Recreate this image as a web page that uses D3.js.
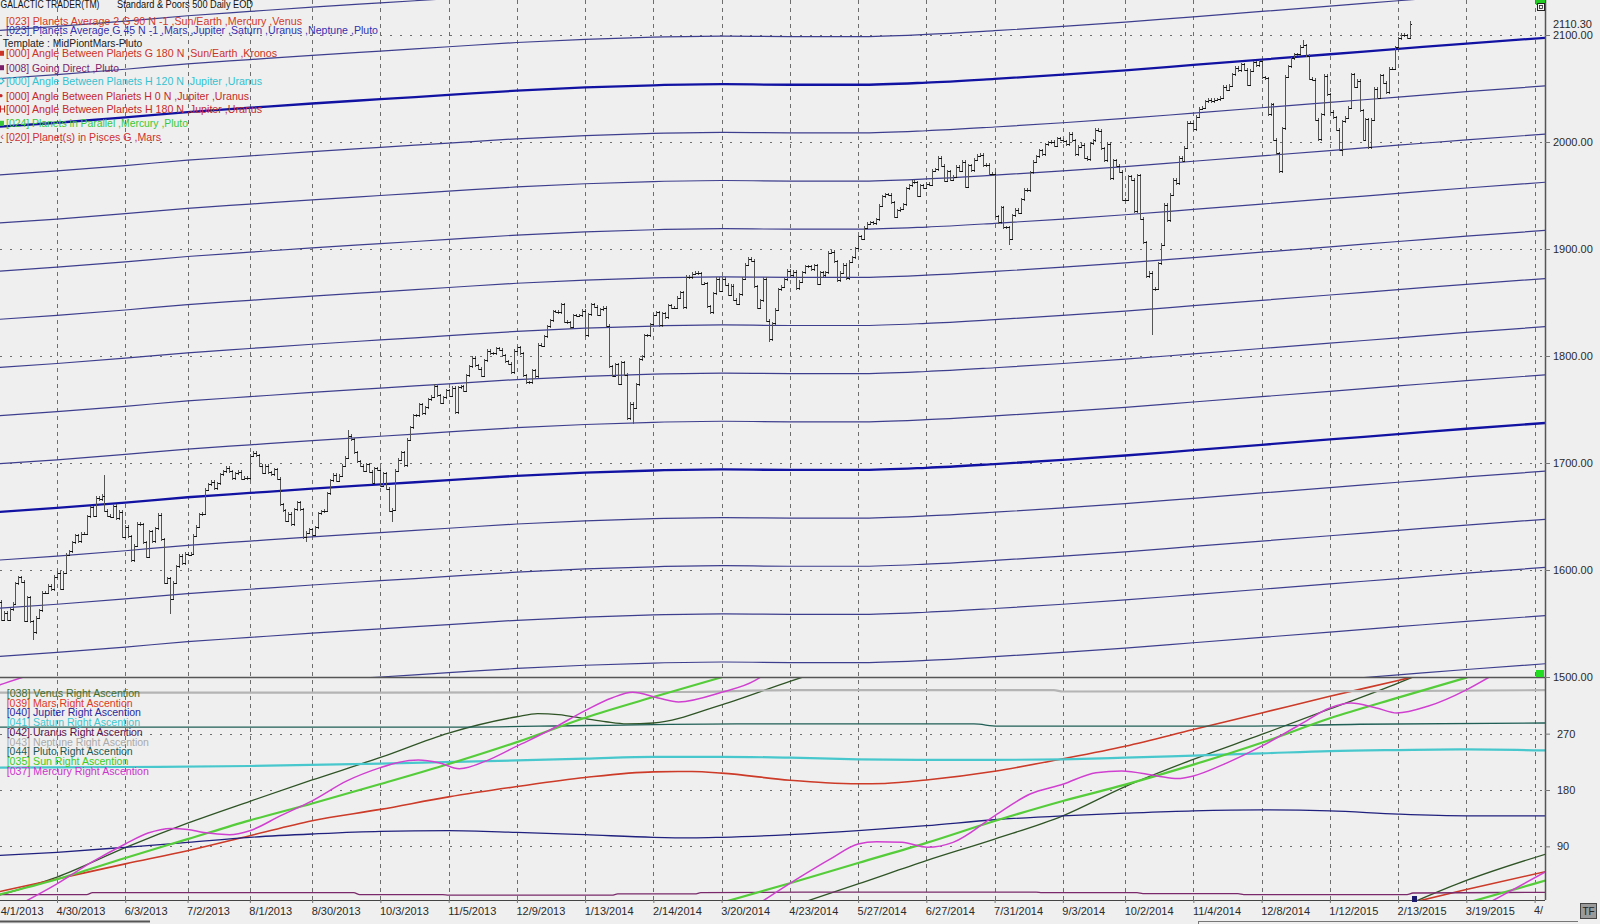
<!DOCTYPE html>
<html><head><meta charset="utf-8">
<script src="https://cdn.jsdelivr.net/npm/d3@7"></script>
<style>
html,body{margin:0;padding:0;background:#efefef;overflow:hidden;}
svg{display:block;font-family:"Liberation Sans",Arial,sans-serif;}
</style></head><body>
<svg id="chart" width="1600" height="924"></svg>
<script>
// ---------------- DATA ----------------
const holidays = ["2013-05-27","2013-07-04","2013-09-02","2013-11-28","2013-12-25","2014-01-01","2014-01-20","2014-02-17","2014-04-18","2014-05-26","2014-07-04","2014-09-01","2014-11-27","2014-12-25","2015-01-01","2015-01-19","2015-02-16","2015-04-03"];
const tickDates = ["2013-04-01","2013-04-30","2013-06-03","2013-07-02","2013-08-01","2013-08-30","2013-10-03","2013-11-05","2013-12-09","2014-01-13","2014-02-14","2014-03-20","2014-04-23","2014-05-27","2014-06-27","2014-07-31","2014-09-03","2014-10-02","2014-11-04","2014-12-08","2015-01-12","2015-02-13","2015-03-19","2015-04-22"];
const tickLabels = ["4/1/2013","4/30/2013","6/3/2013","7/2/2013","8/1/2013","8/30/2013","10/3/2013","11/5/2013","12/9/2013","1/13/2014","2/14/2014","3/20/2014","4/23/2014","5/27/2014","6/27/2014","7/31/2014","9/3/2014","10/2/2014","11/4/2014","12/8/2014","1/12/2015","2/13/2015","3/19/2015","4/22/2015"];
const priceTicks = [2100,2000,1900,1800,1700,1600,1500];
const priceGrid = [2100,2000,1900,1800,1700,1600];
const degTicks = [270,180,90];
const lastPrice = 2110.30;

// S&P 500 daily closes, one per session from 2013-04-01
const closes = [
1562.2,1570.3,1553.7,1560.0,1553.3,1563.1,1568.6,1587.7,1593.4,1588.9,1552.4,1574.6,1552.0,1541.6,1555.3,1562.5,1578.8,1578.8,1585.2,1582.2,1593.6,1597.6,
1582.7,1597.6,1614.4,1617.5,1626.0,1632.7,1626.7,1633.7,1633.8,1650.3,1658.8,1650.5,1667.5,1666.3,1669.2,1655.4,1650.5,1649.6,1660.1,1648.4,1654.4,1631.0,
1640.4,1631.4,1608.9,1622.6,1643.4,1642.8,1626.1,1612.5,1636.4,1626.7,1639.0,1651.8,1628.9,1588.2,1592.4,1573.1,1588.0,1603.3,1613.2,1606.3,
1615.0,1614.1,1615.4,1631.9,1640.5,1652.3,1652.6,1675.0,1680.2,1682.5,1676.3,1680.9,1689.4,1692.1,1695.5,1692.4,1685.9,1690.3,1691.7,1685.3,1686.0,1685.7,
1706.9,1709.7,1707.1,1697.4,1690.9,1697.5,1691.4,1689.5,1694.2,1685.4,1661.3,1655.8,1646.1,1652.4,1642.8,1657.0,1663.5,1656.8,1630.5,1635.0,1638.2,1633.0,
1639.8,1653.1,1655.1,1655.2,1671.7,1684.0,1689.1,1683.4,1688.0,1697.6,1704.8,1725.5,1722.3,1709.9,1701.8,1697.4,1692.8,1698.7,1691.8,1681.6,
1695.0,1693.9,1678.7,1690.5,1676.1,1655.5,1656.4,1692.6,1703.2,1710.1,1698.1,1721.5,1733.2,1744.5,1744.7,1754.7,1746.4,1752.1,1759.8,1762.1,1772.0,1763.3,1756.5,
1761.6,1767.9,1763.0,1770.5,1747.2,1770.6,1771.9,1767.7,1782.0,1790.6,1798.2,1791.5,1787.9,1781.4,1795.9,1804.8,1802.5,1802.8,1807.2,1805.8,
1800.9,1795.2,1792.8,1785.0,1805.1,1808.4,1802.6,1782.2,1775.5,1775.3,1786.5,1781.0,1810.7,1809.6,1818.3,1828.0,1833.3,1842.0,1841.4,1841.1,1848.4,
1832.0,1831.4,1826.8,1837.9,1837.5,1838.1,1842.4,1819.2,1838.9,1848.4,1845.9,1838.7,1843.8,1844.9,1828.5,1790.3,1781.6,1792.5,1774.2,1794.2,1782.6,
1741.9,1755.2,1751.6,1773.4,1797.0,1799.8,1819.3,1819.3,1829.8,1838.6,1840.8,1828.8,1839.8,1836.3,1847.6,1845.1,1845.2,1854.3,1859.5,
1845.7,1873.9,1873.8,1877.0,1878.0,1877.2,1867.6,1868.2,1846.3,1841.1,1858.8,1872.3,1860.8,1872.0,1866.5,1857.4,1865.6,1852.6,1849.0,1857.6,1872.3,
1885.5,1890.9,1888.8,1865.1,1845.0,1852.0,1872.2,1833.1,1815.7,1830.6,1843.0,1862.3,1864.9,1871.9,1879.6,1875.4,1878.6,1863.4,1869.4,1878.3,1884.0,
1883.7,1881.1,1884.7,1867.7,1878.2,1875.6,1878.5,1896.7,1897.5,1888.5,1870.9,1877.9,1885.1,1872.8,1888.0,1892.5,1900.5,1911.9,1909.8,1920.0,1923.6,
1925.0,1924.2,1927.9,1940.5,1949.4,1951.3,1950.8,1943.9,1930.1,1936.2,1937.8,1942.0,1957.0,1959.5,1962.9,1962.6,1950.0,1959.5,1957.2,1961.0,1960.2,
1973.3,1974.6,1985.4,1977.7,1963.7,1972.8,1964.7,1967.6,1977.1,1973.3,1981.6,1958.1,1978.2,1973.6,1983.5,1987.0,1988.0,1978.3,1978.9,1970.0,1970.1,1930.7,
1925.2,1939.0,1920.2,1920.2,1909.6,1931.6,1936.9,1933.8,1946.7,1955.2,1955.1,1971.7,1981.6,1986.5,1992.4,1988.4,1997.9,2000.0,2000.1,1996.7,2003.4,
2002.3,2000.7,1997.7,2007.7,2001.5,1988.4,1995.7,1997.5,1985.5,1984.1,1999.0,2001.6,2011.4,2010.4,1994.3,1982.8,1998.3,1966.0,1982.9,1977.8,1972.3,
1946.2,1946.2,1967.9,1964.8,1935.1,1968.9,1928.2,1906.1,1874.7,1877.7,1862.5,1862.8,1886.8,1904.0,1941.3,1927.1,1950.8,1964.6,1961.6,1985.1,1982.3,1994.7,2018.1,
2017.8,2012.1,2023.6,2031.2,2031.9,2038.3,2039.7,2038.3,2039.3,2039.8,2041.3,2051.8,2048.7,2052.8,2063.5,2069.4,2067.0,2072.8,2067.6,
2053.4,2066.6,2074.3,2071.9,2075.4,2060.3,2059.8,2026.1,2035.3,2002.3,1989.6,1972.7,2012.9,2061.2,2070.7,2078.5,2082.2,2081.9,2088.8,2090.6,2080.4,2058.9,
2058.2,2020.6,2002.6,2025.9,2062.1,2044.8,2028.3,2023.0,2011.3,1992.7,2019.4,2022.6,2032.1,2063.2,2051.8,2057.1,2029.6,2002.2,2021.3,1995.0,
2020.9,2050.0,2041.5,2062.5,2055.5,2046.7,2068.6,2068.5,2088.5,2097.0,2100.3,2099.7,2097.5,2110.3
];
// intraday extremes that stick out of the close-to-close range
const spikeDates  = ["2013-04-18","2013-05-22","2013-06-24","2013-08-28","2013-09-18","2013-10-09","2014-02-05","2014-04-11","2014-08-07","2014-10-15","2014-12-16","2014-12-29","2015-01-16","2015-02-20"];
const spikeValues = [1536.0,1687.2,1560.3,1627.5,1729.9,1646.5,1737.9,1814.4,1904.8,1820.7,1972.6,2093.6,1988.1,2111.4];

// Planetary harmonic line (price units) at session index; repeated every 45 points
const harmonicBase = [[0,1654],[21,1658],[44,1663],[65,1668],[86,1672],[107,1676],[130,1680],[153,1684],[176,1688],[199,1691],[222,1693],[245,1694],[268,1693.5],[291,1693.5],[314,1695.5],[337,1699],[360,1703],[381,1707],[404,1712],[427,1717],[450,1722],[473,1727],[496,1732],[523,1737.5]];
const harmonicOffsets = [-225,-180,-135,-90,-45,0,45,90,135,180,225,270,315,360,405,450];

// Right ascension (degrees, unwrapped) at session index
const sunRA = [[0,11],[21,37.5],[44,71.5],[65,101.5],[86,131.5],[107,158.5],[130,189.5],[153,221.5],[176,256.5],[199,295.5],[222,328.5],[245,360],[268,391],[291,423.5],[314,455.5],[337,490.5],[360,522.5],[381,548.5],[404,580.5],[427,615.5],[450,654.5],[473,687.5],[496,719.5],[519,750.5],[523,756]];
const mercuryRA = [[0,345],[1.8,348],[9.5,360],[21,390],[32.7,424.7],[44,453.8],[51.7,471.3],[59.4,478.7],[65,477],[70.5,472],[79.2,468.6],[86,475],[96.4,499],[107,522.7],[118.7,554.5],[130,575.7],[136,584],[142.8,587.9],[149.7,583.6],[156.6,574],[166.9,589],[176,610],[187.5,636.6],[199,666.8],[208,687],[215,696],[223.6,687],[230.5,680.6],[245,696],[256.3,715],[258,720],[271.4,760.8],[281.7,790],[291,813.8],[297.2,817.5],[305.8,816.4],[314.4,808.5],[323,816.4],[337,858.8],[348.8,893.3],[360,909.2],[371.2,927.7],[379.8,930.4],[391.8,922.4],[398.7,918.2],[404,922.4],[414.2,941],[427,970],[440,1004.6],[450,1031],[457.1,1039],[465.7,1031],[472.6,1023],[483,1033.7],[496,1060],[503.6,1080],[523,1130]];
const venusRA = [[0,10],[21,41],[44,88],[65,127],[86,162],[107,196],[130,232],[153,271],[176,297],[183,302],[190,300.5],[199,294],[206,289],[213,285.6],[222,287],[245,316],[268,353.5],[291,390],[314,427.3],[337,461.7],[360,498.8],[381,545.5],[404,589],[427,628.7],[450,669.5],[473,710.8],[496,755.5],[523,798]];
const marsRA = [[0,16],[21,38],[44,62],[65,83],[86,107],[107,131],[130,149],[153,169],[176,185.5],[199,200],[222,209],[235,209.5],[245,207],[268,195.5],[280,191.5],[291,190],[300,190.5],[314,196],[337,210],[360,230],[381,250],[404,276.6],[427,303],[450,329.6],[473,355],[496,381],[523,410]];
const jupiterRA = [[0,75],[21,80.5],[44,88.5],[65,96.4],[86,104.4],[107,109.7],[130,113.9],[153,115],[176,112.3],[199,108.6],[222,104.4],[235,103.5],[245,104.4],[268,108.6],[291,115],[314,123],[337,132.5],[360,138.8],[381,143],[404,146.8],[427,148.4],[450,146.8],[473,141.5],[496,138.8],[523,138.8]];
const saturnRA = [[0,215.7],[44,216.7],[86,218.3],[130,222],[176,227.3],[199,230],[222,233],[245,233],[268,231.6],[291,229],[314,228],[337,228],[360,229],[381,231.6],[404,235],[427,238.5],[450,242.2],[473,243.8],[496,244.8],[523,243.2]];
const uranusRA = [[0,13],[31,13],[33,16],[121,16],[123,13],[151,13],[153,12],[208,12],[210,14],[236,14],[238,16],[272,17],[351,17],[353,16],[385,16],[387,14.5],[419,14.5],[421,13],[476,13],[478,15.5],[523,16.5]];
const neptuneRA = [[0,335.5],[120,335.5],[230,336.5],[270,339.5],[357,339.5],[360,337.3],[450,337.8],[523,339.5]];
const plutoRA = [[0,280.5],[150,280.5],[200,283],[250,285.5],[330,285.5],[338,282],[420,282],[460,285],[523,287]];

const topLegend = [
 "[023] Planets Average 2 G 90 N -1 ,Sun/Earth ,Mercury ,Venus",
 "[023] Planets Average G 45 N -1 ,Mars ,Jupiter ,Saturn ,Uranus ,Neptune ,Pluto",
 "Template : MidPiontMars-Pluto",
 "[000] Angle Between Planets G 180 N ,Sun/Earth ,Kronos",
 "[008] Going Direct ,Pluto",
 "[000] Angle Between Planets H 120 N ,Jupiter ,Uranus",
 "[000] Angle Between Planets H 0 N ,Jupiter ,Uranus",
 "[000] Angle Between Planets H 180 N ,Jupiter ,Uranus",
 "[024] Planets in Parallel ,Mercury ,Pluto",
 "[020] Planet(s) in Pisces G ,Mars"];
const raLegend = ["[038] Venus Right Ascention","[039] Mars Right Ascention","[040] Jupiter Right Ascention","[041] Saturn Right Ascention","[042] Uranus Right Ascention","[043] Neptune Right Ascention","[044] Pluto Right Ascention","[035] Sun Right Ascention","[037] Mercury Right Ascention"];

// ---------------- LAYOUT / STYLE ----------------
const PLOT_R = 1545, TOP_B = 677, BOT_B = 900;
const topLegendStyle = [
 {y:20.7,w:296,c:"#d23a28"},{y:30,w:372,c:"#3232b0"},{y:43.3,w:139.5,c:"#222",x:2.7},
 {y:53.3,w:271,c:"#cc3426",m:"sq"},{y:67.7,w:113,c:"#7a1f6a",m:"sq"},{y:81,w:256,c:"#35c2d0",m:"dia"},
 {y:95.7,w:243,c:"#c42a2a",m:"dot"},{y:109,w:256,c:"#c42a2a",m:"H"},{y:123.3,w:182,c:"#38c838",m:"sq"},
 {y:136.7,w:155,c:"#d03030",m:"lt"}];
const raStyle = [
 {c:"#3e6e2c",lc:"#2f5426",w:133.3,lw:1.3},{c:"#dd3a22",lc:"#cc3a28",w:126,lw:1.6},{c:"#2a2aa0",lc:"#20207e",w:134.3,lw:1.3},
 {c:"#3cc8d0",lc:"#48c8cc",w:133.3,lw:2.2},{c:"#5a1450",lc:"#7a2a6a",w:136,lw:1.3},{c:"#aaaaaa",lc:"#b4b4b4",w:142.3,lw:2.2},
 {c:"#1d5a55",lc:"#1f5f55",w:126,lw:1.3},{c:"#3ccc1a",lc:"#55cc3a",w:121.6,lw:2.2},{c:"#cc33cc",lc:"#d040d0",w:142.3,lw:1.5}];
const raSeries = [venusRA, marsRA, jupiterRA, saturnRA, uranusRA, neptuneRA, plutoRA, sunRA, mercuryRA];

// ---------------- SCALES ----------------
const fmt = d3.timeFormat("%Y-%m-%d");
const hol = new Set(holidays);
const sessions = d3.timeDay.range(new Date(2013,3,1), new Date(2015,4,2))
  .filter(d => d.getDay()!==0 && d.getDay()!==6 && !hol.has(fmt(d))).map(fmt);
const sIndex = new Map(sessions.map((s,i)=>[s,i]));
const x = d3.scaleLinear().domain([0,522]).range([-5.3,1543.5]);
const yP = d3.scaleLinear().domain([1500,2100]).range([TOP_B,35]);
const yD = d3.scaleLinear().domain([0,360]).range([902.7,677.3]);
const FONT = '"Liberation Sans",Arial,sans-serif';

const svg = d3.select("#chart");
svg.append("rect").attr("width",1600).attr("height",924).attr("fill","#efefef");
const defs = svg.append("defs");
defs.append("clipPath").attr("id","clipTop").append("rect").attr("x",0).attr("y",0).attr("width",PLOT_R).attr("height",TOP_B);
defs.append("clipPath").attr("id","clipBot").append("rect").attr("x",0).attr("y",TOP_B).attr("width",PLOT_R).attr("height",BOT_B-TOP_B);

// ---------------- GRID ----------------
const tickIdx = tickDates.map(d=>sIndex.get(d));
const grid = svg.append("g");
grid.selectAll("line.v").data(tickIdx).join("line").attr("class","v")
  .attr("x1",d=>Math.round(x(d))+0.5).attr("x2",d=>Math.round(x(d))+0.5)
  .attr("y1",0).attr("y2",BOT_B).attr("stroke","#6e6e6e").attr("stroke-width",1).attr("stroke-dasharray","4,4");
grid.selectAll("line.hp").data(priceGrid).join("line").attr("class","hp")
  .attr("x1",0).attr("x2",PLOT_R).attr("y1",d=>Math.round(yP(d))+0.5).attr("y2",d=>Math.round(yP(d))+0.5)
  .attr("stroke","#6e6e6e").attr("stroke-dasharray","2,8");
grid.selectAll("line.hd").data(degTicks).join("line").attr("class","hd")
  .attr("x1",0).attr("x2",PLOT_R).attr("y1",d=>Math.round(yD(d))+0.5).attr("y2",d=>Math.round(yD(d))+0.5)
  .attr("stroke","#6e6e6e").attr("stroke-dasharray","2,8");

// ---------------- HARMONIC LINES ----------------
const hl = svg.append("g").attr("clip-path","url(#clipTop)");
const hLine = off => d3.line().x(d=>x(d[0])).y(d=>yP(d[1]+off)).curve(d3.curveMonotoneX);
harmonicOffsets.forEach(off=>{
  const thick = off % 360 === 0;
  hl.append("path").datum(harmonicBase).attr("fill","none")
    .attr("stroke", thick ? "#1212a2" : "#3e3e8e")
    .attr("stroke-width", thick ? 2.3 : 1.2)
    .attr("d", hLine(off));
});

// ---------------- PRICE BARS ----------------
const spikeMap = new Map(spikeDates.map((d,i)=>[sIndex.get(d), spikeValues[i]]));
const barData = closes.map((c,i)=>{
  const o = i ? closes[i-1] : c;
  let hi = Math.max(o,c), lo = Math.min(o,c);
  if (spikeMap.has(i)) { const s = spikeMap.get(i); hi = Math.max(hi,s); lo = Math.min(lo,s); }
  return {i,o,c,hi,lo};
});
const bars = svg.append("g").attr("clip-path","url(#clipTop)").attr("shape-rendering","crispEdges");
const bx = d => Math.round(x(d.i))+0.5;
bars.selectAll("line.b").data(barData).join("line").attr("class","b")
  .attr("x1",bx).attr("x2",bx).attr("y1",d=>yP(d.hi)-1.5).attr("y2",d=>yP(d.lo)+1.5)
  .attr("stroke","#555").attr("stroke-width",1);
bars.selectAll("line.o").data(barData).join("line").attr("class","o")
  .attr("x1",d=>bx(d)-1.5).attr("x2",bx).attr("y1",d=>Math.round(yP(d.o))+0.5).attr("y2",d=>Math.round(yP(d.o))+0.5)
  .attr("stroke","#111");
bars.selectAll("line.c").data(barData).join("line").attr("class","c")
  .attr("x1",bx).attr("x2",d=>bx(d)+1.5).attr("y1",d=>Math.round(yP(d.c))+0.5).attr("y2",d=>Math.round(yP(d.c))+0.5)
  .attr("stroke","#111");

// ---------------- LOWER PANEL LINES ----------------
function wrapSegments(pts){
  const segs=[]; let cur=[]; let k=Math.floor(pts[0][1]/360);
  const push=(p)=>{ if(!cur.length || Math.abs(cur[cur.length-1][0]-p[0])>1e-6) cur.push(p); };
  for(let j=0;j<pts.length;j++){
    const [t,v]=pts[j]; const kk=Math.floor(v/360);
    if(j>0 && kk!==k){
      const [t0,v0]=pts[j-1];
      const B=360*Math.max(k,kk);
      const tc=t0+(B-v0)/(v-v0)*(t-t0);
      if(kk>k){ push([tc,360]); segs.push(cur); cur=[[tc,0]]; }
      else { push([tc,0]); segs.push(cur); cur=[[tc,360]]; }
      k=kk;
    }
    push([t, v-360*k]);
  }
  segs.push(cur);
  return segs.filter(s=>s.length>1);
}
const low = svg.append("g").attr("clip-path","url(#clipBot)");
const raLine = d3.line().x(d=>x(d[0])).y(d=>yD(d[1])).curve(d3.curveMonotoneX);
raSeries.forEach((ser,si)=>{
  wrapSegments(ser).forEach(seg=>{
    low.append("path").datum(seg).attr("fill","none")
      .attr("stroke",raStyle[si].lc).attr("stroke-width",raStyle[si].lw).attr("d",raLine);
  });
});

// ---------------- FRAME ----------------
svg.append("line").attr("x1",0).attr("x2",PLOT_R).attr("y1",TOP_B+0.5).attr("y2",TOP_B+0.5).attr("stroke","#555").attr("stroke-width",1.5);
svg.append("line").attr("x1",0).attr("x2",PLOT_R).attr("y1",BOT_B+0.5).attr("y2",BOT_B+0.5).attr("stroke","#444").attr("stroke-width",1.2);
svg.append("line").attr("x1",PLOT_R+0.5).attr("x2",PLOT_R+0.5).attr("y1",0).attr("y2",BOT_B).attr("stroke","#555").attr("stroke-width",1.5);

// ---------------- AXES ----------------
const styleAxis = g => { g.select(".domain").remove(); g.attr("font-family",FONT).attr("font-size",11);
  g.selectAll("line").attr("stroke","#777"); g.selectAll("text").attr("fill","#2a2a2a"); };
svg.append("g").attr("transform",`translate(${PLOT_R},0)`)
  .call(d3.axisRight(yP).tickValues(priceTicks).tickSize(5).tickPadding(3).tickFormat(d3.format(".2f"))).call(styleAxis);
svg.append("g").attr("transform",`translate(${PLOT_R},0)`)
  .call(d3.axisRight(yD).tickValues(degTicks).tickSize(5).tickPadding(7).tickFormat(d3.format("d"))).call(styleAxis);
svg.append("text").attr("x",1553).attr("y",24.3).attr("dy","0.35em").attr("font-size",11).attr("fill","#2a2a2a").text(d3.format(".2f")(lastPrice));

const xAxisG = svg.append("g").attr("transform",`translate(0,${BOT_B})`)
  .call(d3.axisBottom(x).tickValues(tickIdx).tickSize(3).tickPadding(4).tickFormat((d,i)=>tickLabels[i]))
  .call(styleAxis)
  .call(g=>g.selectAll("text").attr("text-anchor","start").attr("dx",(d,i)=> i===0 ? 5.5 : -1));
// the last label runs into the right border in the original: shorten it to fit the plot edge
xAxisG.selectAll("text").filter((d,i)=>i===tickLabels.length-1)
  .attr("font-size",10).attr("textLength",9).attr("lengthAdjust","spacingAndGlyphs").text("4/");

// ---------------- TOP LEGEND ----------------
const tl = svg.append("g").attr("font-family",FONT);
tl.append("text").attr("x",0.5).attr("y",4.8).attr("dy","0.35em").attr("font-size",10).attr("fill","#111")
  .attr("textLength",99).attr("lengthAdjust","spacingAndGlyphs").text("GALACTIC TRADER(TM)");
tl.append("text").attr("x",117).attr("y",4.8).attr("dy","0.35em").attr("font-size",10).attr("fill","#111")
  .attr("textLength",136).attr("lengthAdjust","spacingAndGlyphs").text("Standard & Poors 500 Daily EOD");
topLegend.forEach((t,i)=>{
  const s = topLegendStyle[i];
  tl.append("text").attr("x", s.x!==undefined ? s.x : 6).attr("y",s.y).attr("dy","0.35em")
    .attr("font-size",11).attr("fill",s.c).attr("textLength",s.w).attr("lengthAdjust","spacingAndGlyphs").text(t);
  if(s.m==="sq") tl.append("rect").attr("x",0).attr("y",s.y-2.5).attr("width",4).attr("height",5).attr("fill",s.c);
  if(s.m==="dia") tl.append("path").attr("d",`M0,${s.y-3}L3,${s.y}L0,${s.y+3}L-3,${s.y}Z`).attr("fill","none").attr("stroke",s.c).attr("stroke-width",1.2).attr("transform","translate(1,0)");
  if(s.m==="dot") tl.append("circle").attr("cx",1).attr("cy",s.y).attr("r",1.6).attr("fill",s.c);
  if(s.m==="H") tl.append("path").attr("d",`M0,${s.y-3.5}V${s.y+3.5}M0,${s.y}H4M4,${s.y-3.5}V${s.y+3.5}`).attr("fill","none").attr("stroke",s.c).attr("stroke-width",1).attr("transform","translate(0.5,0)");
  if(s.m==="lt") tl.append("text").attr("x",0.5).attr("y",s.y).attr("dy","0.35em").attr("font-size",10).attr("fill",s.c).text("\u2039");
});

// ---------------- LOWER LEGEND ----------------
const ll = svg.append("g").attr("font-family",FONT);
raLegend.forEach((t,i)=>{
  ll.append("text").attr("x",6.7).attr("y",693.3+i*9.75).attr("dy","0.35em").attr("font-size",10.5)
    .attr("fill",raStyle[i].c).attr("textLength",raStyle[i].w).attr("lengthAdjust","spacingAndGlyphs").text(t);
});

// ---------------- DECORATIONS ----------------
svg.append("rect").attr("x",1536).attr("y",0).attr("width",9).attr("height",5).attr("fill","#22cc22");
svg.append("rect").attr("x",1537.5).attr("y",3.5).attr("width",7).attr("height",7).attr("fill","#f4f4f4").attr("stroke","#222");
svg.append("rect").attr("x",1539.5).attr("y",5.5).attr("width",3).attr("height",3).attr("fill","none").attr("stroke","#222").attr("stroke-width",0.8);
svg.append("rect").attr("x",1536).attr("y",670).attr("width",8).attr("height",7).attr("fill","#22dd22");
svg.append("rect").attr("x",1412).attr("y",896).attr("width",5).attr("height",6).attr("fill","#1a1a6e");
svg.append("rect").attr("x",1580.5).attr("y",903.5).attr("width",16).attr("height",15).attr("fill","#9a9a9a").attr("stroke","#444");
svg.append("text").attr("x",1588.5).attr("y",911).attr("dy","0.35em").attr("text-anchor","middle").attr("font-size",10).attr("fill","#222").text("TF");
svg.append("line").attr("x1",0).attr("x2",150).attr("y1",921.5).attr("y2",921.5).attr("stroke","#555").attr("stroke-width",2);
svg.append("line").attr("x1",1198).attr("x2",1578).attr("y1",921.5).attr("y2",921.5).attr("stroke","#777").attr("stroke-width",1);
svg.append("line").attr("x1",1198.5).attr("x2",1198.5).attr("y1",921).attr("y2",924).attr("stroke","#777").attr("stroke-width",1);
</script></body></html>
